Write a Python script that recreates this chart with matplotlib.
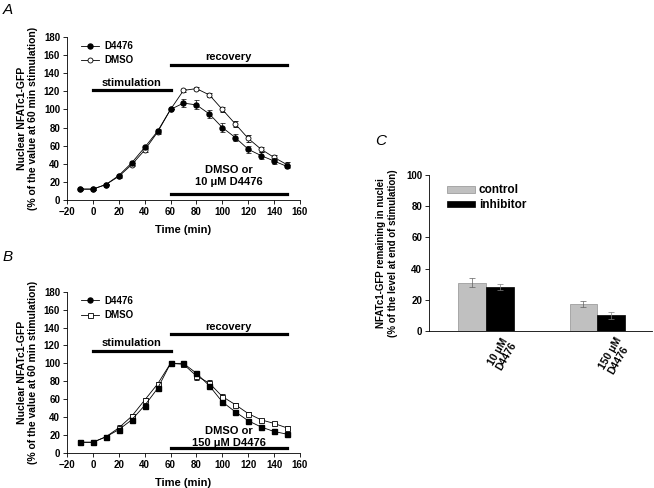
import matplotlib.pyplot as plt
from matplotlib.lines import Line2D
import matplotlib.transforms as mtransforms
import numpy as np

plt.rcParams['font.family'] = ['Liberation Sans', 'DejaVu Sans']
plt.rcParams['font.weight'] = 'bold'
plt.rcParams['font.size'] = 7

# time points (min)
time = [-10, 0, 10, 20, 30, 40, 50, 60, 70, 80, 90, 100, 110, 120, 130, 140, 150]

# panel A: 10 uM D4476
a_d4476 = [12, 12, 17, 27, 41, 58, 76, 100, 107, 105, 95, 80, 69, 56, 49, 43, 37]
a_d4476_err = [1, 1, 1, 2, 2, 2, 2, 0, 4, 5, 4, 5, 4, 4, 4, 3, 2]
a_dmso = [12, 12, 17, 26, 39, 55, 75, 100, 121, 123, 116, 100, 84, 68, 56, 47, 39]
a_dmso_err = [1, 1, 1, 2, 2, 2, 2, 0, 2, 2, 2, 3, 3, 4, 3, 3, 3]

# panel B: 150 uM D4476
b_d4476 = [12, 12, 18, 26, 37, 53, 72, 100, 100, 89, 75, 57, 46, 36, 29, 24, 21]
b_d4476_err = [1, 1, 2, 2, 2, 2, 2, 0, 2, 2, 2, 2, 1, 1, 1, 1, 1]
b_dmso = [12, 12, 18, 28, 41, 59, 77, 100, 99, 86, 78, 63, 54, 44, 37, 33, 28]
b_dmso_err = [1, 1, 2, 3, 2, 2, 2, 0, 3, 4, 3, 3, 2, 2, 1, 1, 2]

# panel C
c_groups = ['10 \u03bcM\nD4476', '150 \u03bcM\nD4476']
c_control = [31, 17.5]
c_control_err = [3, 2]
c_inhibitor = [28, 10]
c_inhibitor_err = [2, 2]

fig = plt.figure(figsize=(6.54, 4.88), dpi=100)

ylab = 'Nuclear NFATc1-GFP\n(% of the value at 60 min stimulation)'


def time_panel(ax, d, de, m, me, dmark, mmark, conc, stim_y, rec_y, low_y, txt_y):
    ax.errorbar(time, m, yerr=me, color='black', lw=0.6, marker=mmark, ms=3.6,
                mfc='white', mec='black', mew=0.6, capsize=1.8, elinewidth=0.5,
                capthick=0.5, zorder=2)
    ax.errorbar(time, d, yerr=de, color='black', lw=0.6, marker=dmark, ms=3.6,
                mfc='black', mec='black', capsize=1.8, elinewidth=0.5,
                capthick=0.5, zorder=3)
    ax.plot([0, 60], [stim_y, stim_y], color='black', lw=2.3)
    ax.plot([60, 150], [rec_y, rec_y], color='black', lw=2.3)
    ax.plot([60, 150], [low_y, low_y], color='black', lw=2.3)
    ax.text(30, stim_y + 8.5, 'stimulation', ha='center', va='center', fontsize=8)
    ax.text(105, rec_y + 8.5, 'recovery', ha='center', va='center', fontsize=8)
    ax.text(105, txt_y, 'DMSO or\n' + conc + ' \u03bcM D4476', ha='center', va='center',
            fontsize=8, linespacing=1.25)
    ax.set_xlim(-20, 160)
    ax.set_ylim(0, 180)
    ax.set_xticks(range(-20, 161, 20))
    ax.set_yticks(range(0, 181, 20))
    ax.spines['top'].set_visible(False)
    ax.spines['right'].set_visible(False)
    for s in ax.spines.values():
        s.set_linewidth(0.6)
    ax.tick_params(direction='out', length=3, width=0.6, labelsize=7, pad=2)
    ax.set_xlabel('Time (min)', fontsize=8, fontweight='bold', labelpad=6)
    ax.set_ylabel(ylab, fontsize=7.5, fontweight='bold', linespacing=1.2, labelpad=4)
    handles = [Line2D([], [], color='black', lw=0.6, marker='o', ms=3.6, mfc='black'),
               Line2D([], [], color='black', lw=0.6, marker=mmark, ms=3.6, mfc='white', mew=0.6)]
    ax.legend(handles, ['D4476', 'DMSO'], loc='upper left', bbox_to_anchor=(0.06, 0.975),
              frameon=False, fontsize=7, handlelength=1.9, handletextpad=0.5,
              borderpad=0, borderaxespad=0, labelspacing=0.45)


axA = fig.add_axes([0.1024, 0.5902, 0.3563, 0.334])
time_panel(axA, a_d4476, a_d4476_err, a_dmso, a_dmso_err, 'o', 'o', '10', 121, 149, 7, 26)

axB = fig.add_axes([0.1024, 0.0717, 0.3563, 0.3306])
time_panel(axB, b_d4476, b_d4476_err, b_dmso, b_dmso_err, 's', 's', '150', 114, 132.5, 5.5, 18)

axC = fig.add_axes([0.656, 0.3217, 0.341, 0.3197])
x = np.arange(len(c_groups))
w = 0.25
axC.bar(x - w / 2, c_control, w, yerr=c_control_err, color='#c0c0c0', edgecolor='#909090',
        lw=0.5, capsize=2, error_kw=dict(elinewidth=0.5, capthick=0.5, ecolor='#606060'),
        label='control')
axC.bar(x + w / 2, c_inhibitor, w, yerr=c_inhibitor_err, color='black', edgecolor='black',
        lw=0.5, capsize=2, error_kw=dict(elinewidth=0.5, capthick=0.5, ecolor='#808080'),
        label='inhibitor')
axC.set_xlim(-0.51, 1.49)
axC.set_ylim(0, 100)
axC.set_yticks(range(0, 101, 20))
axC.set_xticks(x)
axC.set_xticklabels(c_groups, rotation=60, ha='left', va='top', fontsize=7.5,
                    linespacing=1.0)
offset = mtransforms.ScaledTranslation(-6 / 100, 0, fig.dpi_scale_trans)
for lab in axC.get_xticklabels():
    lab.set_transform(lab.get_transform() + offset)
axC.tick_params(axis='x', length=0, pad=3)
axC.tick_params(axis='y', direction='out', length=3, width=0.6, labelsize=7, pad=2)
axC.spines['top'].set_visible(False)
axC.spines['right'].set_visible(False)
for s in axC.spines.values():
    s.set_linewidth(0.6)
axC.set_ylabel('NFATc1-GFP remaining in nuclei\n(% of the level at end of stimulation)',
               fontsize=7, fontweight='bold', linespacing=1.2, labelpad=6)
axC.legend(loc='upper left', bbox_to_anchor=(0.08, 0.94), frameon=False, fontsize=8.5,
           handlelength=2.4, handleheight=0.5, handletextpad=0.3, labelspacing=0.25,
           borderpad=0, borderaxespad=0)

fig.text(0.004, 0.971, 'A', fontsize=11, style='italic', fontweight='normal')
fig.text(0.004, 0.465, 'B', fontsize=11, style='italic', fontweight='normal')
fig.text(0.573, 0.703, 'C', fontsize=11, style='italic', fontweight='normal')

fig.savefig('out.png', dpi=100)
